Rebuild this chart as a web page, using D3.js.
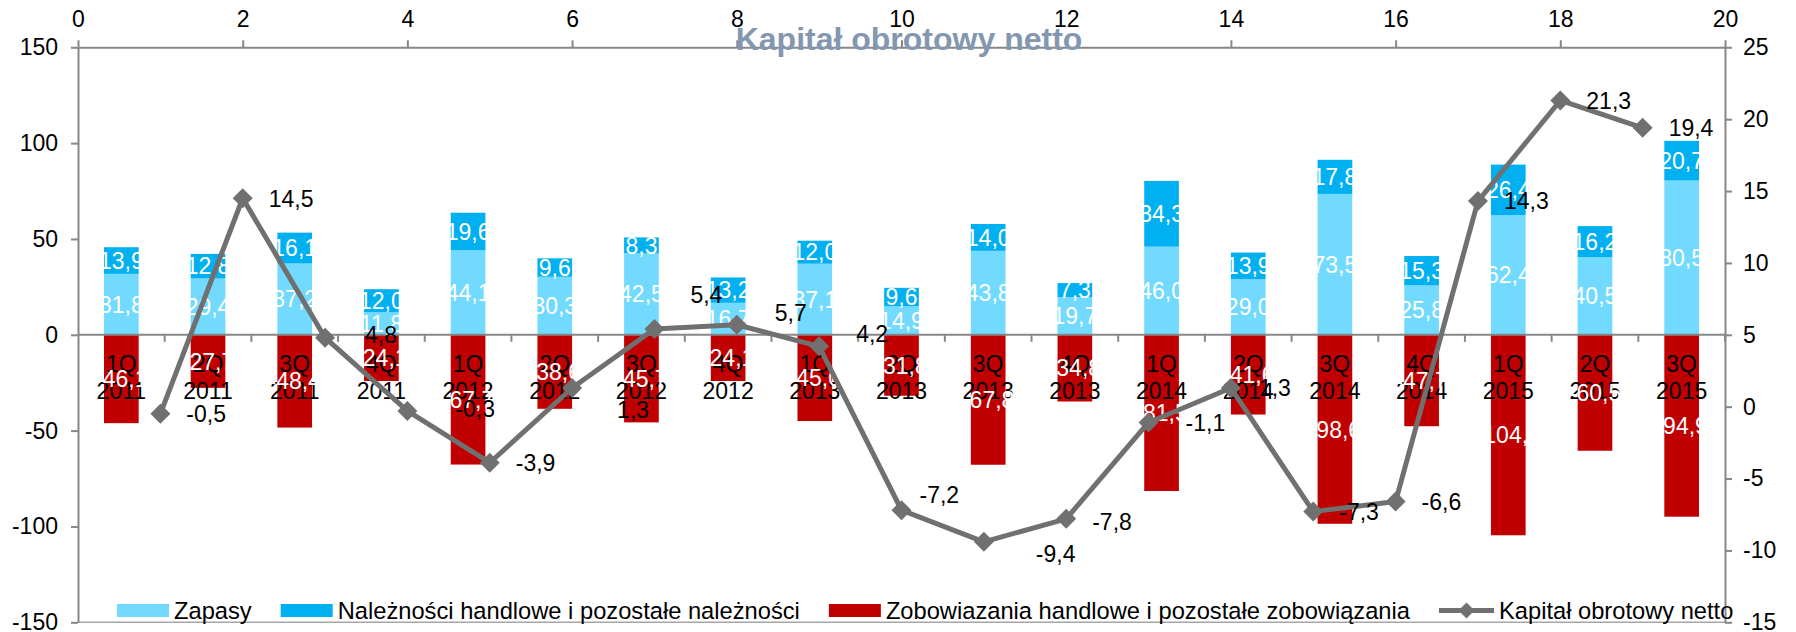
<!DOCTYPE html>
<html>
<head>
<meta charset="utf-8">
<script src="https://cdn.jsdelivr.net/npm/d3@7"></script>
<style>
  body { margin: 0; background: #fff; }
  svg text { font-family: "Liberation Sans", Arial, sans-serif; }
</style>
</head>
<body>
<script>
// data
const quarters = ["1Q","2Q","3Q","4Q","1Q","2Q","3Q","4Q","1Q","2Q","3Q","4Q","1Q","2Q","3Q","4Q","1Q","2Q","3Q"]
const years = ["2011","2011","2011","2011","2012","2012","2012","2012","2013","2013","2013","2013","2014","2014","2014","2014","2015","2015","2015"]
const zapasy = [31.8, 29.4, 37.2, 11.8, 44.1, 30.3, 42.5, 16.7, 37.1, 14.9, 43.8, 19.7, 46.0, 29.0, 73.5, 25.8, 62.4, 40.5, 80.5]
const naleznosci = [13.9, 12.8, 16.1, 12.0, 19.6, 9.6, 8.3, 13.2, 12.0, 9.6, 14.0, 7.3, 34.3, 13.9, 17.8, 15.3, 26.4, 16.2, 20.7]
const zobowiazania = [-46.1, -27.7, -48.4, -24.1, -67.7, -38.6, -45.7, -24.1, -45.0, -31.8, -67.8, -34.8, -81.5, -41.6, -98.6, -47.7, -104.6, -60.5, -94.9]
const kapital = [-0.5, 14.5, 4.8, -0.3, -3.9, 1.3, 5.4, 5.7, 4.2, -7.2, -9.4, -7.8, -1.1, 1.3, -7.3, -6.6, 14.3, 21.3, 19.4]
const leftTicks = [-150, -100, -50, 0, 50, 100, 150]
const rightTicks = [-15, -10, -5, 0, 5, 10, 15, 20, 25]
const topTicks = [0, 2, 4, 6, 8, 10, 12, 14, 16, 18, 20]
const seriesNames = ["Zapasy", "Należności handlowe i pozostałe należności", "Zobowiazania handlowe i pozostałe zobowiązania", "Kapitał obrotowy netto"]

// layout
const svgWidth = 1796
const svgHeight = 632
const plot = { left: 78, right: 1725, top: 47.3, bottom: 622.3 }
const colors = ["#72d9ff", "#00b0f0", "#c00000", "#707070"]
const axisColor = "#878787"
const fontSize = 23
// small nudges for the line labels that Excel moved off the default "right" spot
const labelNudge = [[0,0],[0,0],[14,-3],[22,-2],[0,0],[19,22],[10,-34],[12,-12],[11,-13],[-8,-15],[26,12],[0,3],[11,0],[2,0],[0,0],[0,0],[0,0],[0,0],[0,0]]

// Excel style: comma decimal, plain hyphen for minus
const fmt = v => d3.format(".1f")(v).replace(".", ",").replace("\u2212", "-")
const tickFmt = v => String(v)
const categories = quarters.map((q, i) => q + " " + years[i])

const svg = d3.select("body").append("svg")
  .attr("width", svgWidth)
  .attr("height", svgHeight)

const x = d3.scaleBand()
  .domain(categories)
  .range([plot.left, plot.right])
  .paddingInner(0.6)
  .paddingOuter(0.3)

const xTop = d3.scaleLinear().domain([0, 20]).range([plot.left, plot.right])
const y = d3.scaleLinear().domain([-150, 150]).range([plot.bottom, plot.top])
const y2 = d3.scaleLinear().domain([-15, 25]).range([plot.bottom, plot.top])

// bars
const stacks = categories.map((c, i) => ({
  c,
  segs: [
    { y0: 0, y1: zapasy[i], v: zapasy[i], color: colors[0] },
    { y0: zapasy[i], y1: zapasy[i] + naleznosci[i], v: naleznosci[i], color: colors[1] },
    { y0: 0, y1: zobowiazania[i], v: zobowiazania[i], color: colors[2] }
  ]
}))

const barG = svg.append("g")
barG.selectAll("g")
  .data(stacks)
  .enter()
  .append("g")
  .selectAll("rect")
  .data(d => d.segs.map(s => Object.assign({ c: d.c }, s)))
  .enter()
  .append("rect")
  .attr("x", d => x(d.c))
  .attr("width", x.bandwidth())
  .attr("y", d => y(Math.max(d.y0, d.y1)))
  .attr("height", d => Math.abs(y(d.y0) - y(d.y1)))
  .attr("fill", d => d.color)

// plot bottom border
svg.append("line")
  .attr("x1", plot.left).attr("x2", plot.right)
  .attr("y1", plot.bottom).attr("y2", plot.bottom)
  .attr("stroke", "#a6a6a6").attr("stroke-width", 1.5)

// axes
function styleAxis(g) {
  g.selectAll("path.domain").attr("stroke", axisColor).attr("stroke-width", 2)
  g.selectAll(".tick line").attr("stroke", axisColor).attr("stroke-width", 2)
  g.selectAll(".tick text")
    .attr("fill", "#000")
    .style("font-size", fontSize + "px")
    .style("font-family", "'Liberation Sans', Arial, sans-serif")
}

svg.append("g")
  .attr("transform", `translate(${plot.left},0)`)
  .call(d3.axisLeft(y).tickValues(leftTicks).tickFormat(tickFmt).tickSize(7).tickSizeOuter(0).tickPadding(13))
  .call(styleAxis)

svg.append("g")
  .attr("transform", `translate(${plot.right},0)`)
  .call(d3.axisRight(y2).tickValues(rightTicks).tickFormat(tickFmt).tickSize(7).tickSizeOuter(0).tickPadding(11))
  .call(styleAxis)

svg.append("g")
  .attr("transform", `translate(0,${plot.top})`)
  .call(d3.axisTop(xTop).tickValues(topTicks).tickFormat(tickFmt).tickSize(7).tickSizeOuter(0).tickPadding(13))
  .call(styleAxis)

// category axis at zero with ticks between categories
const zeroY = y(0)
const catAxis = svg.append("g")
catAxis.append("line")
  .attr("x1", plot.left).attr("x2", plot.right)
  .attr("y1", zeroY).attr("y2", zeroY)
  .attr("stroke", axisColor).attr("stroke-width", 2)
const gap = (x.step() - x.bandwidth()) / 2
const bounds = categories.map(c => x(c) + x.bandwidth() + gap)
catAxis.selectAll("line.tk")
  .data(bounds)
  .enter()
  .append("line")
  .attr("class", "tk")
  .attr("x1", d => d).attr("x2", d => d)
  .attr("y1", zeroY).attr("y2", zeroY + 7)
  .attr("stroke", axisColor).attr("stroke-width", 2)

const catLabels = catAxis.selectAll("text")
  .data(categories)
  .enter()
  .append("text")
  .attr("x", d => x(d) + x.bandwidth() / 2)
  .attr("y", zeroY + 37)
  .attr("text-anchor", "middle")
  .style("font-size", fontSize + "px")
  .attr("fill", "#000")
catLabels.append("tspan").attr("x", d => x(d) + x.bandwidth() / 2).text((d, i) => quarters[i])
catLabels.append("tspan").attr("x", d => x(d) + x.bandwidth() / 2).attr("dy", 27).text((d, i) => years[i])

// bar value labels (white, so they disappear outside the bars)
const barLabels = []
stacks.forEach(s => s.segs.forEach(g => barLabels.push({ c: s.c, mid: (g.y0 + g.y1) / 2, v: g.v })))
svg.append("g")
  .selectAll("text")
  .data(barLabels)
  .enter()
  .append("text")
  .attr("x", d => x(d.c) + x.bandwidth() / 2)
  .attr("y", d => y(d.mid))
  .attr("dy", "0.36em")
  .attr("text-anchor", "middle")
  .attr("fill", "#fff")
  .style("font-size", fontSize + "px")
  .text(d => fmt(d.v))

// line on the secondary axes (points at 1..19)
const pts = kapital.map((v, i) => ({ v, px: xTop(i + 1), py: y2(v), i }))

const line = d3.line()
  .x(d => d.px)
  .y(d => d.py)

svg.append("path")
  .attr("d", line(pts))
  .attr("fill", "none")
  .attr("stroke", colors[3])
  .attr("stroke-width", 5)
  .attr("stroke-linejoin", "round")

const diamond = r => `M0,${-r}L${r},0L0,${r}L${-r},0Z`

svg.append("g")
  .selectAll("path")
  .data(pts)
  .enter()
  .append("path")
  .attr("transform", d => `translate(${d.px},${d.py})`)
  .attr("d", diamond(10))
  .attr("fill", colors[3])

svg.append("g")
  .selectAll("text")
  .data(pts)
  .enter()
  .append("text")
  .attr("x", d => d.px + 26 + labelNudge[d.i][0])
  .attr("y", d => d.py + labelNudge[d.i][1])
  .attr("dy", "0.36em")
  .attr("fill", "#000")
  .style("font-size", fontSize + "px")
  .text(d => fmt(d.v))

// title
svg.append("text")
  .attr("x", 909)
  .attr("y", 50)
  .attr("text-anchor", "middle")
  .attr("fill", "#8497b0")
  .style("font-size", "32px")
  .style("font-weight", "bold")
  .text("Kapitał obrotowy netto")

// legend
const legend = svg.append("g").attr("transform", "translate(117,610.5)")
let lx = 0
seriesNames.forEach((name, i) => {
  const item = legend.append("g").attr("transform", `translate(${lx},0)`)
  if (i < 3) {
    item.append("rect")
      .attr("x", 0).attr("y", -6.5)
      .attr("width", 52).attr("height", 13)
      .attr("fill", colors[i])
  } else {
    item.append("line")
      .attr("x1", 0).attr("x2", 55)
      .attr("y1", 0).attr("y2", 0)
      .attr("stroke", colors[3]).attr("stroke-width", 5)
    item.append("path")
      .attr("transform", "translate(27.5,0)")
      .attr("d", diamond(8))
      .attr("fill", colors[3])
  }
  const t = item.append("text")
    .attr("x", i < 3 ? 57 : 60)
    .attr("y", 0)
    .attr("dy", "0.36em")
    .style("font-size", "23.7px")
    .attr("fill", "#000")
    .text(name)
  lx += (i < 3 ? 57 : 60) + t.node().getComputedTextLength() + 29
})
</script>
</body>
</html>
